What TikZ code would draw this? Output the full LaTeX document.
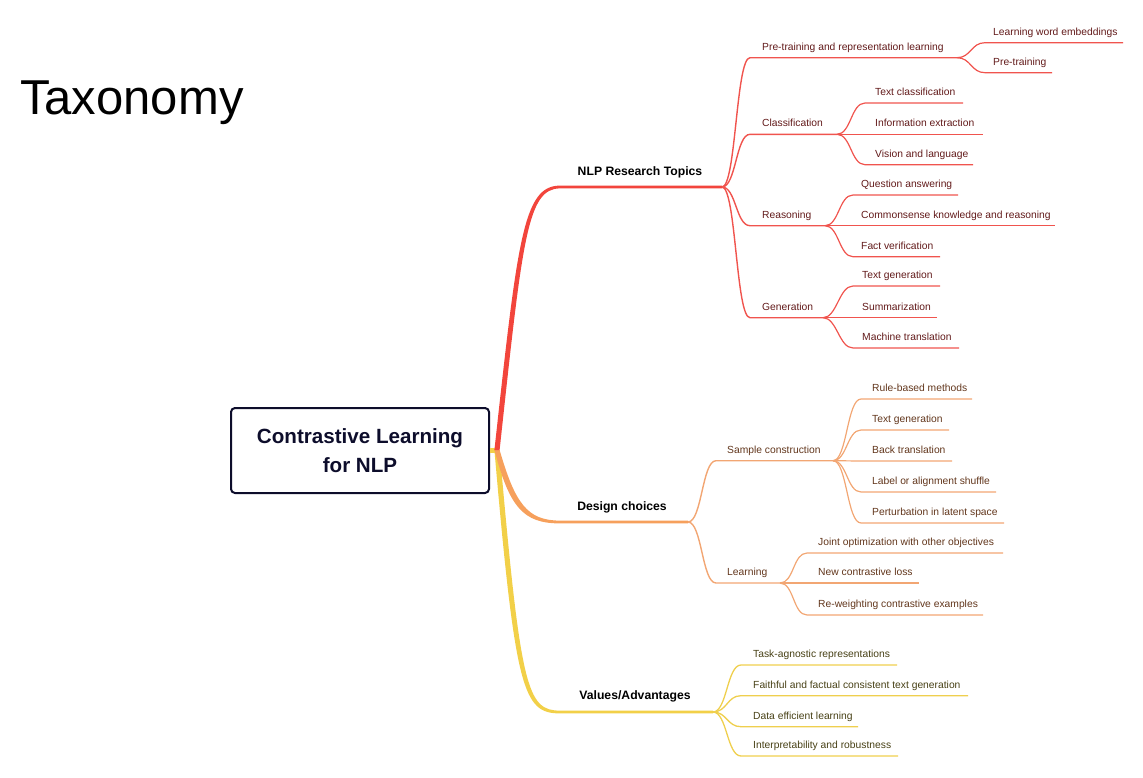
\documentclass[tikz,border=0pt]{standalone}
\usepackage{fontspec}
\setmainfont{Liberation Sans}
\usetikzlibrary{calc}
\definecolor{rmain}{HTML}{F2453C}
\definecolor{rline}{HTML}{F0544E}
\definecolor{rtext}{HTML}{621A1A}
\definecolor{omain}{HTML}{F6A05C}
\definecolor{oline}{HTML}{F2A673}
\definecolor{otext}{HTML}{62361C}
\definecolor{ymain}{HTML}{F2D048}
\definecolor{yline}{HTML}{EFCF4E}
\definecolor{ytext}{HTML}{474015}
\definecolor{navy}{HTML}{0D0D2B}
\tikzset{
  leaffont/.style={font=\fontsize{10.3}{12}\selectfont},
  rtxt/.style={leaffont, text=rtext, anchor=base west, inner sep=0pt},
  otxt/.style={leaffont, text=otext, anchor=base west, inner sep=0pt},
  ytxt/.style={leaffont, text=ytext, anchor=base west, inner sep=0pt},
  rln/.style={draw=rline, line width=1.2pt},
  oln/.style={draw=oline, line width=1.2pt},
  yln/.style={draw=yline, line width=1.2pt},
  mainlbl/.style={font=\fontsize{12.2}{14}\selectfont\bfseries, text=black, anchor=base, inner sep=0pt},
}
\newcommand\mmleaf[8]{%
  \coordinate (#3s) at (#5,#4);
  \coordinate (#3e) at (#6,#4);
  \node[#1txt] (#3) at (#7,#4-7.5) {#8};
  \draw[#1ln] (#2) .. controls +(14,0) and +(-14,0) .. (#3s) -- (#3e);
}
\begin{document}
\begin{tikzpicture}[x=1pt,y=-1pt]
\useasboundingbox (0,0) rectangle (1143,777);

\node[anchor=base west, inner sep=0pt, font=\fontsize{49}{55}\selectfont] (title) at (20,114.3) {Taxonomy};

\node[draw=navy, line width=2pt, rounded corners=4pt, minimum width=258pt, minimum height=85pt,
      align=center, text=navy, font=\fontsize{20.6}{29}\selectfont\bfseries] (box) at (360,450.5)
      {Contrastive Learning\\for NLP};

\coordinate (root) at (497,450);

% Values/Advantages (yellow)
\coordinate (valS) at (560,712);
\coordinate (valF) at (713,712);
\draw[draw=ymain, line width=5pt] (box.east |- root) -- (root);
\fill[ymain] ($(root)+(2.6,0)$) .. controls (520.6,689) and (527,710.6) .. ($(valS)+(0,-1.4)$)
   -- ($(valF)+(0,-1.4)$) -- ($(valF)+(0,1.4)$) -- ($(valS)+(0,1.4)$)
   .. controls (523,713.4) and (515.4,691) .. ($(root)+(-2.6,0)$) -- cycle;
\node[mainlbl] (val) at (635,699) {Values/Advantages};

% Design choices (orange)
\coordinate (desS) at (560,522);
\coordinate (desF) at (688,522);
\fill[omain] ($(root)+(2.6,0)$) .. controls (515,503) and (527,520.6) .. ($(desS)+(0,-1.4)$)
   -- ($(desF)+(0,-1.4)$) -- ($(desF)+(0,1.4)$) -- ($(desS)+(0,1.4)$)
   .. controls (523,523.4) and (509.5,507) .. ($(root)+(-2.6,0)$) -- cycle;
\node[mainlbl] (des) at (622,510) {Design choices};

% NLP research topics (red)
\coordinate (nlpS) at (560,187);
\coordinate (nlpF) at (722,187);
\fill[rmain] ($(root)+(-2.6,0)$) .. controls (517.6,240) and (523,185.6) .. ($(nlpS)+(0,-1.4)$)
   -- ($(nlpF)+(0,-1.4)$) -- ($(nlpF)+(0,1.4)$) -- ($(nlpS)+(0,1.4)$)
   .. controls (527,188.4) and (522.4,240) .. ($(root)+(2.6,0)$) -- cycle;
\node[mainlbl] (nlp) at (640,175) {NLP Research Topics};

% ---- NLP level 2
\begin{scope}[rln/.append style={line width=1.4pt}]
\mmleaf{r}{nlpF}{pt}{57.7}{750}{957}{762}{Pre-training and representation learning}
\mmleaf{r}{nlpF}{cl}{134.3}{750}{837}{762}{Classification}
\mmleaf{r}{nlpF}{re}{225.7}{750}{825}{762}{Reasoning}
\mmleaf{r}{nlpF}{ge}{317.7}{750}{823}{762}{Generation}
\end{scope}
\mmleaf{r}{pte}{lwe}{42.7}{985}{1123}{993}{Learning word embeddings}
\mmleaf{r}{pte}{ptr}{72.7}{985}{1052}{993}{Pre-training}
\mmleaf{r}{cle}{tcl}{103}{865}{963}{875}{Text classification}
\mmleaf{r}{cle}{iex}{134.3}{865}{983}{875}{Information extraction}
\mmleaf{r}{cle}{vnl}{164.7}{865}{973}{875}{Vision and language}
\mmleaf{r}{ree}{qa}{195}{853}{958}{861}{Question answering}
\mmleaf{r}{ree}{ckr}{225.7}{853}{1055}{861}{Commonsense knowledge and reasoning}
\mmleaf{r}{ree}{fv}{256.7}{853}{940}{861}{Fact verification}
\mmleaf{r}{gee}{tg}{286}{853}{940}{862}{Text generation}
\mmleaf{r}{gee}{sum}{317.7}{853}{937}{862}{Summarization}
\mmleaf{r}{gee}{mt}{348}{853}{959}{862}{Machine translation}

% ---- Design level 2
\begin{scope}[oln/.append style={line width=1.4pt}]
\mmleaf{o}{desF}{sc}{460.7}{716}{833}{727}{Sample construction}
\mmleaf{o}{desF}{le}{583}{716}{780}{727}{Learning}
\end{scope}
\mmleaf{o}{sce}{rb}{399}{861}{972}{872}{Rule-based methods}
\mmleaf{o}{sce}{tgo}{430}{861}{949}{872}{Text generation}
\mmleaf{o}{sce}{bt}{461}{861}{952}{872}{Back translation}
\mmleaf{o}{sce}{las}{492}{861}{996}{872}{Label or alignment shuffle}
\mmleaf{o}{sce}{pls}{523}{861}{1004}{872}{Perturbation in latent space}
\mmleaf{o}{lee}{jo}{553}{807}{1003}{818}{Joint optimization with other objectives}
\mmleaf{o}{lee}{ncl}{583}{807}{919}{818}{New contrastive loss}
\mmleaf{o}{lee}{rw}{615}{807}{983}{818}{Re-weighting contrastive examples}

% ---- Values level 2
\begin{scope}[yln/.append style={line width=1.3pt}]
\mmleaf{y}{valF}{tar}{665}{741}{897}{753}{Task-agnostic representations}
\mmleaf{y}{valF}{ffc}{695.7}{741}{968}{753}{Faithful and factual consistent text generation}
\mmleaf{y}{valF}{del}{726.7}{741}{858}{753}{Data efficient learning}
\mmleaf{y}{valF}{iar}{756}{741}{898}{753}{Interpretability and robustness}
\end{scope}
\end{tikzpicture}
\end{document}
